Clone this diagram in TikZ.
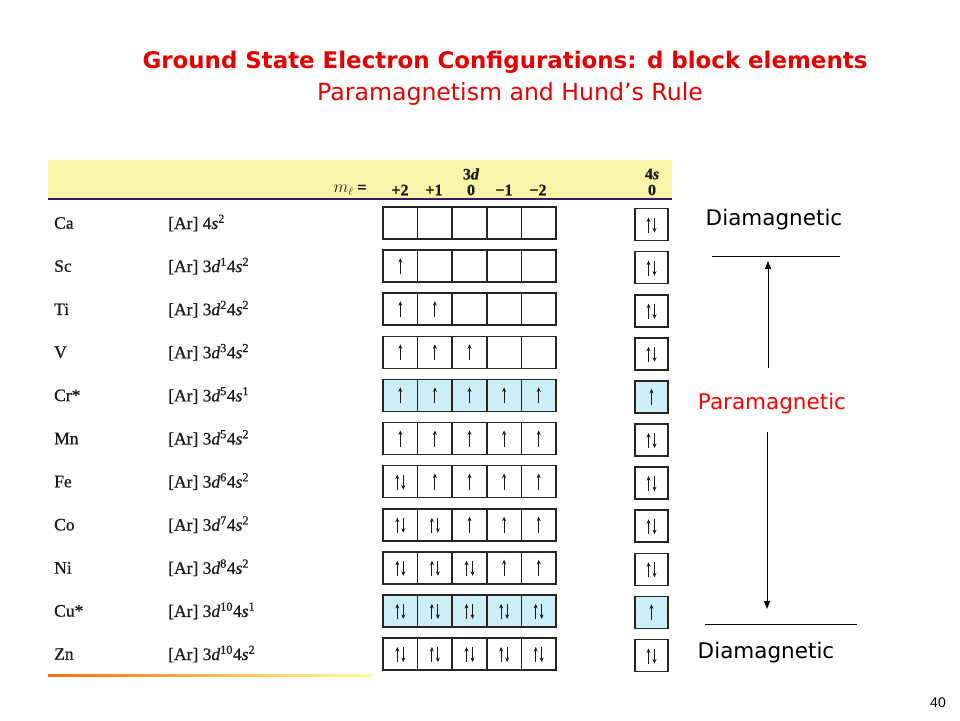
\documentclass[tikz,border=0pt]{standalone}
\usepackage{fontspec}
\setmainfont[FakeBold=0.7]{Liberation Serif}
\newfontfamily\comicfont{DejaVu Sans}
\newfontfamily\arialfont{Liberation Sans}
\usetikzlibrary{arrows.meta}
\definecolor{titlered}{RGB}{232,0,0}
\definecolor{hdryellow}{RGB}{250,244,168}
\definecolor{cyanfill}{RGB}{204,238,246}
\definecolor{navyline}{RGB}{45,30,95}
\definecolor{boxline}{RGB}{40,35,30}
\definecolor{printink}{RGB}{30,25,25}
\begin{document}
\begin{tikzpicture}[x=1pt,y=-1pt,
  orb/.style={draw=boxline,line width=1.6pt,minimum width=34.6pt,minimum height=32pt,inner sep=0pt,anchor=center},
  lbl/.style={font=\fontsize{17.5}{20}\selectfont,text=printink,anchor=west,inner sep=0pt},
  hdr/.style={font=\bfseries\fontsize{16}{18}\selectfont,text=printink,inner sep=0pt},
  el/.style={line width=1pt,draw=printink,-{Stealth[length=4.5pt,width=4pt]}},
  comic/.style={font=\comicfont\fontsize{21.5}{25}\selectfont,inner sep=0pt},
  bigarrow/.style={line width=1pt,-{Triangle[length=8pt,width=6pt]}},
  rule/.style={line width=0.8pt}]
\useasboundingbox[fill=white] (0,0) rectangle (960,720);

% title
\node[text=titlered,inner sep=0pt,font=\comicfont\bfseries\fontsize{22.9}{26}\selectfont] (title) at (505,62) {Ground State Electron Configurations: d block elements};
\node[text=titlered,inner sep=0pt,font=\comicfont\fontsize{23.6}{27}\selectfont] (subtitle) at (510,94) {Paramagnetism and Hund’s Rule};

% header band
\fill[hdryellow] (48,160) rectangle (672,199);
\draw[navyline,line width=2pt] (48,199) -- (672,199);
\node[hdr] (h3d) at (471,174) {3\textit{d}};
\node[hdr] (hml) at (350,190) {$m_\ell$ =};
\node[hdr] (hp2) at (400,190) {+2};
\node[hdr] (hp1) at (434,190) {+1};
\node[hdr] (h0) at (471,190) {0};
\node[hdr] (hm1) at (504,190) {−1};
\node[hdr] (hm2) at (538,190) {−2};
\node[hdr] (h4s) at (652,174) {4\textit{s}};
\node[hdr] (h4s0) at (652,190) {0};

% rows
\foreach \i/\nm/\cfg/\np/\ns/\sf/\fc in {
 0/Ca/{[Ar] 4\textit{s}\textsuperscript{2}}/0/0/2/white,
 1/Sc/{[Ar] 3\textit{d}\textsuperscript{1}4\textit{s}\textsuperscript{2}}/0/1/2/white,
 2/Ti/{[Ar] 3\textit{d}\textsuperscript{2}4\textit{s}\textsuperscript{2}}/0/2/2/white,
 3/V/{[Ar] 3\textit{d}\textsuperscript{3}4\textit{s}\textsuperscript{2}}/0/3/2/white,
 4/Cr*/{[Ar] 3\textit{d}\textsuperscript{5}4\textit{s}\textsuperscript{1}}/0/5/1/cyanfill,
 5/Mn/{[Ar] 3\textit{d}\textsuperscript{5}4\textit{s}\textsuperscript{2}}/0/5/2/white,
 6/Fe/{[Ar] 3\textit{d}\textsuperscript{6}4\textit{s}\textsuperscript{2}}/1/4/2/white,
 7/Co/{[Ar] 3\textit{d}\textsuperscript{7}4\textit{s}\textsuperscript{2}}/2/3/2/white,
 8/Ni/{[Ar] 3\textit{d}\textsuperscript{8}4\textit{s}\textsuperscript{2}}/3/2/2/white,
 9/Cu*/{[Ar] 3\textit{d}\textsuperscript{10}4\textit{s}\textsuperscript{1}}/5/0/1/cyanfill,
 10/Zn/{[Ar] 3\textit{d}\textsuperscript{10}4\textit{s}\textsuperscript{2}}/5/0/2/white}{
  \pgfmathsetmacro\ry{223+43.1*\i}
  \pgfmathtruncatemacro\tot{\np+\ns}
  \node[lbl] (name\i) at (54,\ry) {\nm};
  \node[lbl] (cfg\i) at (168,\ry) {\cfg};
  \foreach \k in {1,...,5}{
    \pgfmathsetmacro\bx{400.3+34.6*(\k-1)}
    \node[orb,fill=\fc] (b\i-\k) at (\bx,\ry) {};
    \ifnum\k>\np\relax
      \ifnum\k>\tot\relax\else
        \draw[el] ([yshift=-8pt]b\i-\k.center) -- ([yshift=8pt]b\i-\k.center);
      \fi
    \else
      \draw[el] ([xshift=-3pt,yshift=-8pt]b\i-\k.center) -- ([xshift=-3pt,yshift=7pt]b\i-\k.center);
      \draw[el] ([xshift=3pt,yshift=7pt]b\i-\k.center) -- ([xshift=3pt,yshift=-8pt]b\i-\k.center);
    \fi
  }
  \node[orb,fill=\fc,minimum width=33pt] (s\i) at (651.5,\ry+1.5) {};
  \ifnum\sf=2\relax
    \draw[el] ([xshift=-3pt,yshift=-8pt]s\i.center) -- ([xshift=-3pt,yshift=7pt]s\i.center);
    \draw[el] ([xshift=3pt,yshift=7pt]s\i.center) -- ([xshift=3pt,yshift=-8pt]s\i.center);
  \else
    \draw[el] ([yshift=-8pt]s\i.center) -- ([yshift=8pt]s\i.center);
  \fi
}

% bottom rule of table
\shade[left color=orange!85!red,right color=yellow!40] (48,674.5) rectangle (372,676.5);

% right side
\node[comic] (dia1) at (774,220) {Diamagnetic};
\coordinate (r1a) at (712,256);
\coordinate (r1b) at (840,256);
\draw[rule] (r1a) -- (r1b);
\node[comic,text=red] (para) at (772,404) {Paramagnetic};
\coordinate (upstart) at (768,368);
\coordinate (upend) at (768,261);
\draw[bigarrow] (upstart) -- (upend);
\coordinate (dnstart) at (767,432);
\coordinate (dnend) at (767,609);
\draw[bigarrow] (dnstart) -- (dnend);
\coordinate (r2a) at (705,624);
\coordinate (r2b) at (857,624);
\draw[rule] (r2a) -- (r2b);
\node[comic] (dia2) at (766,653) {Diamagnetic};

% page number
\node[font=\arialfont\fontsize{14}{16}\selectfont,inner sep=0pt] (pagenum) at (938,703) {40};
\end{tikzpicture}
\end{document}
